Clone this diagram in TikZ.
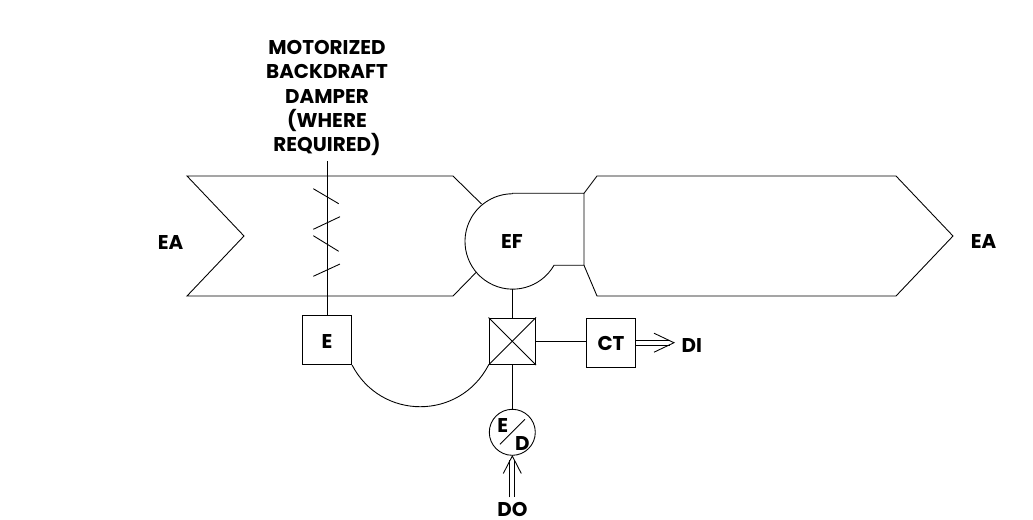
\documentclass[tikz,border=0pt]{standalone}
\usepackage{fontspec}
\setmainfont{Poppins}
\usepackage{tikz}
\usetikzlibrary{positioning, calc}

\begin{document}
\begin{tikzpicture}[x=0.03cm, y=-0.03cm, line width=0.75pt, every node/.style={font=\fontsize{17}{20.9}\selectfont\bfseries}]
    \tikzset{
        devicebox/.style={rectangle, draw, minimum size=1.48cm, inner sep=0pt, text height=14pt, text depth=0pt},
        label/.style={inner sep=0pt, text centered},
        signal/.style={double, double distance=0.125cm}
    }
    \useasboundingbox (0,0) rectangle (1033,519);

    % exhaust duct, fan and discharge duct
    \draw (481.5,204) -- (453,176) -- (187,176) -- (244,236) -- (187,296) -- (453,296) -- (476,272.5);
    \draw (512,193.3) -- (584,193.3) -- (584,265.3) -- (554,265.3) arc[start angle=30, delta angle=240, radius=47.7];
    \draw (584,193.3) -- (597,176) -- (896,176) -- (953,236) -- (896,296) -- (597,296) -- (584,265.3);

    \node [label] (eaa) at (170.5,243) {EA};
    \node [label] (eab) at (983.5,241) {EA};
    \node [label] (efan) at (512,242) {EF};

    \node [devicebox] (ebox) at (327,340) {E};
    \node [devicebox, minimum size=1.4cm] (starter) at (512.3,341.3) {};
    \node [devicebox] (ct) at (611,342.7) {CT};
    \node [circle, draw, minimum size=1.38cm, inner sep=0pt] (motor) at (512.3,432.3) {};
    \node [label] (mote) at (502.7,425) {E};
    \node [label] (motd) at (522.3,443) {D};
    \node [label] (di) at (691.7,345) {DI};
    \node [label] (do) at (512.5,509) {DO};
    \node [label, align=center] (damper) at (327,98) {MOTORIZED\\BACKDRAFT\\DAMPER\\(WHERE\\REQUIRED)};

    % damper shaft and blades
    \coordinate (shafttop) at (327,161);
    \draw (shafttop) -- (ebox.north -| shafttop);
    \draw (313.3,188.7) -- (338.7,203.7);
    \draw (313.3,229.3) -- (340,216.7);
    \draw (313.3,235.7) -- (338.7,251.3);
    \draw (313.3,276.3) -- (340,264);

    % starter box
    \coordinate (fanbottom) at (512.3,288.7);
    \draw (starter.north west) -- (starter.south east);
    \draw (starter.south west) -- (starter.north east);
    \draw (starter.north) -- (fanbottom);
    \draw (starter.east) -- (ct.west |- starter.east);
    \draw (starter.south) -- (motor.north);
    \draw (ebox.south east) .. controls +(29,55.5) and +(-29,55.5) .. (starter.south west);
    \draw (500,444.3) -- (525,419.3);

    % signals
    \coordinate (ditip) at (674,342.7);
    \coordinate (dostem) at (512.3,497.3);
    \coordinate (dotip) at (512.3,456);
    \draw [signal] (ct.east) -- ($(ditip)+(-4,0)$);
    \draw (ditip) +(-20,-9.5) -- (ditip) -- +(-20,9.5);
    \draw [signal] (dostem) -- ($(dotip)+(0,4)$);
    \draw (dotip) +(-9,17.5) -- (dotip) -- +(9,17.5);
\end{tikzpicture}
\end{document}
